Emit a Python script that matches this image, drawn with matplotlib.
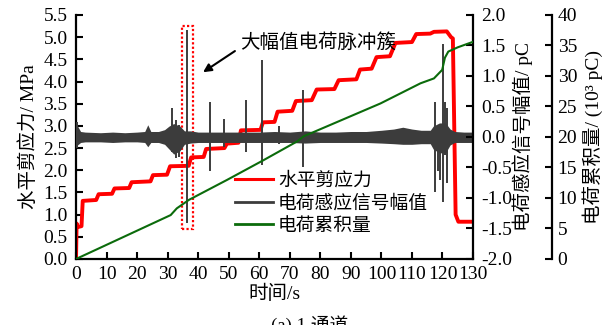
import matplotlib
matplotlib.use('Agg')
import matplotlib.pyplot as plt
from matplotlib.patches import Rectangle
from matplotlib.lines import Line2D
from matplotlib.ticker import FormatStrFormatter

plt.rcParams['font.family'] = ['Liberation Serif', 'Noto Sans CJK SC']
plt.rcParams['axes.unicode_minus'] = True

# Horizontal shear stress (MPa) vs time (s)
shear_t = [0, 0.2, 0.6, 1.8, 2.2, 6.6, 7.4, 11.8, 12.6, 17.4, 18.2, 24.4, 25.2,
           29.8, 30.8, 36.9, 37.7, 41.8, 42.6, 48.6, 49.4, 53.2, 54.0, 60.4,
           61.2, 65.0, 66.0, 70.8, 72.0, 77.2, 78.8, 84.6, 86.0, 91.8, 93.0,
           96.8, 98.4, 102.8, 104.6, 110.0, 111.4, 116.0, 117.2, 121.4, 122.8,
           123.4, 124.3, 125.2, 130]
shear_v = [0, 0.8, 0.72, 0.74, 1.31, 1.33, 1.46, 1.47, 1.59, 1.6, 1.73, 1.75,
           1.89, 1.9, 2.09, 2.1, 2.29, 2.3, 2.48, 2.5, 2.6, 2.62, 2.9, 2.91,
           3.08, 3.09, 3.32, 3.34, 3.56, 3.58, 3.82, 3.83, 4.03, 4.05, 4.27,
           4.29, 4.55, 4.57, 4.87, 4.89, 5.07, 5.08, 5.12, 5.13, 5.0, 4.97,
           1.0, 0.84, 0.84]

# Charge induction signal (pC): background noise envelope
band_t = [0, 0.5, 1.5, 3, 8, 12, 16, 20, 22.5, 23.5, 24.5, 27, 29, 30.5, 32,
          34, 35.5, 37.5, 40, 45, 50, 55, 60, 65, 70, 75, 80, 85, 90, 95, 100,
          104, 107, 110, 113, 116, 117, 119, 121, 122.5, 124, 127, 130]
band_hi = [0.22, 0.18, 0.09, 0.08, 0.07, 0.08, 0.07, 0.08, 0.09, 0.2, 0.09,
           0.09, 0.12, 0.18, 0.22, 0.18, 0.1, 0.1, 0.08, 0.08, 0.08, 0.08,
           0.08, 0.09, 0.08, 0.1, 0.08, 0.08, 0.09, 0.09, 0.11, 0.13, 0.16,
           0.13, 0.11, 0.11, 0.18, 0.23, 0.23, 0.13, 0.09, 0.08, 0.08]
band_lo = [-0.16, -0.13, -0.09, -0.08, -0.08, -0.09, -0.08, -0.08, -0.09,
           -0.16, -0.09, -0.09, -0.12, -0.2, -0.28, -0.23, -0.12, -0.1, -0.09,
           -0.09, -0.09, -0.09, -0.09, -0.09, -0.09, -0.1, -0.09, -0.09,
           -0.09, -0.09, -0.1, -0.11, -0.12, -0.12, -0.11, -0.11, -0.2, -0.26,
           -0.26, -0.13, -0.09, -0.09, -0.09]

# Charge pulses (time, peak, trough)
spike_t = [0.3, 31.4, 32.6, 33.8, 36.5, 43.9, 48.5, 55.7, 60.9, 66.5, 74.3,
           117.5, 118.6, 119.3, 120.1, 120.8, 121.4]
spike_hi = [0.25, 0.47, 0.28, 0.2, 1.75, 0.58, 0.29, 0.61, 1.27, 0.18, 0.77,
            0.58, 0.2, 0.17, 1.52, 0.58, 0.47]
spike_lo = [-0.18, -0.24, -0.35, -0.32, -1.41, -0.55, -0.16, -0.25, -0.46,
            -0.12, -0.49, -0.9, -0.55, -0.7, -1.06, -0.3, -0.75]

# Accumulated charge (10^3 pC)
cum_t = [0, 31, 33, 37, 49.4, 61.4, 72.5, 74.5, 99.7, 112.8, 117.2, 119.9,
         120.8, 121.9, 125, 130]
cum_v = [0, 7.2, 8.3, 9.7, 12.95, 16.2, 19.3, 20.1, 25.5, 28.8, 29.6, 31.0,
         33.0, 34.0, 34.7, 35.6]

labels = ['水平剪应力', '电荷感应信号幅值', '电荷累积量']
c_red, c_dark, c_green = '#ff0000', '#3c3c3c', '#0b6b0b'

fig = plt.figure(figsize=(6.14, 3.25), dpi=100)
ax1 = fig.add_axes([0.1238, 0.2031, 0.6466, 0.7508])
ax2 = ax1.twinx()
ax3 = ax1.twinx()
ax3.spines['right'].set_position(('axes', 1.199))

ax1.plot(shear_t, shear_v, color=c_red, lw=2.8, solid_joinstyle='round')
ax2.fill_between(band_t, band_lo, band_hi, color=c_dark, lw=0)
ax2.vlines(spike_t, spike_lo, spike_hi, color=c_dark, lw=1.4)
ax3.plot(cum_t, cum_v, color=c_green, lw=1.5)

ax1.set_xlim(0, 130)
ax1.set_ylim(0, 5.5)
ax2.set_ylim(-2.0, 2.0)
ax3.set_ylim(0, 40)
ax1.set_xticks(range(0, 131, 10))
ax1.set_yticks([i * 0.5 for i in range(12)])
ax2.set_yticks([-2.0 + i * 0.5 for i in range(9)])
ax3.set_yticks(range(0, 41, 5))
ax1.yaxis.set_major_formatter(FormatStrFormatter('%.1f'))
ax2.yaxis.set_major_formatter(FormatStrFormatter('%.1f'))

for ax in (ax1, ax2, ax3):
    ax.spines['top'].set_visible(False)
    for s in ax.spines.values():
        s.set_linewidth(1.6)
ax1.spines['right'].set_visible(False)
ax2.spines['left'].set_visible(False)
ax2.spines['bottom'].set_visible(False)
ax3.spines['left'].set_visible(False)
ax3.spines['bottom'].set_visible(False)

ax1.tick_params(axis='both', direction='in', length=5, width=1.5, labelsize=14)
ax1.tick_params(axis='y', pad=6)
ax1.tick_params(axis='x', pad=5)
ax2.tick_params(axis='y', direction='in', length=5, width=1.5, labelsize=14, pad=6)
ax3.tick_params(axis='y', direction='in', length=5, width=1.5, labelsize=14, pad=4)

ax1.set_xlabel('时间/s', fontsize=14, labelpad=1)
ax1.set_ylabel('水平剪应力/ MPa', fontsize=14, labelpad=4)
ax2.set_ylabel('电荷感应信号幅值/ pC', fontsize=14, labelpad=0)
ax3.set_ylabel('电荷累积量/ (10³ pC)', fontsize=14, labelpad=4)

# Highlight box around the large pulse cluster
ax1.add_patch(Rectangle((34.6, 0.68), 3.8, 4.57, fill=False, edgecolor=c_red,
                        linestyle=(0, (1, 1)), lw=1.6, zorder=5))
ax1.annotate('大幅值电荷脉冲簇', xy=(41.6, 4.21), xytext=(53.7, 4.89),
             fontsize=14, ha='left', va='center',
             arrowprops=dict(arrowstyle='-|>', color='black', lw=1.5,
                             mutation_scale=12, relpos=(0, 0.2), shrinkA=2,
                             shrinkB=0))

handles = [Line2D([], [], color=c_red, lw=2.2),
           Line2D([], [], color=c_dark, lw=2.0),
           Line2D([], [], color=c_green, lw=2.0)]
ax3.legend(handles, labels, loc='upper left', bbox_to_anchor=(235 / 614, 1 - 172 / 325),
           bbox_transform=fig.transFigure, frameon=False, fontsize=13.5,
           borderpad=0, borderaxespad=0, handlelength=2.0, handletextpad=0.3,
           labelspacing=0.28)

fig.text(310 / 614, 1 - 315 / 325, '(a) 1 通道', fontsize=13.5, ha='center', va='top')

fig.savefig('out.png', dpi=100)
